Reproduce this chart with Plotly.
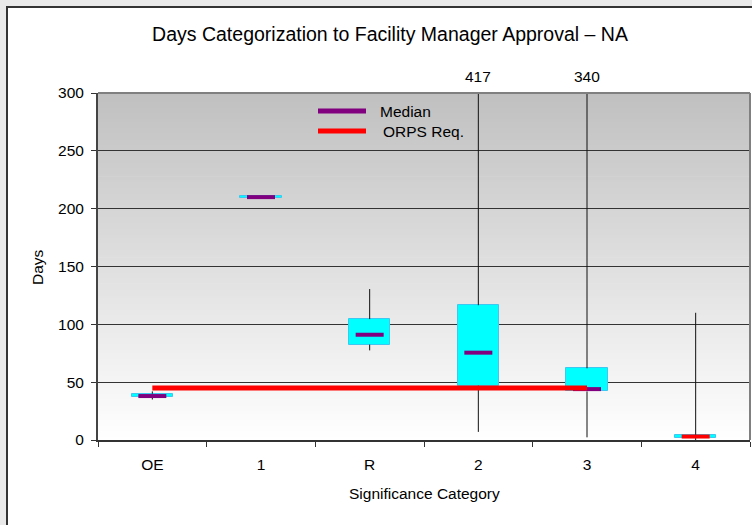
import plotly.graph_objects as go

# ---- data -------------------------------------------------------------
categories = ["OE", "1", "R", "2", "3", "4"]
low_days = [35, 209, 77.5, 7, 2.3, 0]
q1_days = [37, 209.5, 82.5, 47, 42, 1.7]
median_days = [38, 210, 91, 75.5, 44, 3]
q3_days = [40, 211, 104.5, 116.5, 62, 4]
high_days = [42, 211, 130.5, 417, 340, 110]
orps_categories = ["OE", "1", "R", "2", "3"]
orps_days = [45, 45, 45, 45, 45]
y_ticks = [0, 50, 100, 150, 200, 250, 300]

# ---- page geometry (pixels) -------------------------------------------
W, H = 752, 525
ML, MR, MT, MB = 98, 2, 93, 85
PW, PH = W - ML - MR, H - MT - MB
Y_MAX = 300


def px_x(px):
    return (px - ML) / PW


def px_y(py):
    return (H - MB - py) / PH


FONT = "Liberation Sans, Arial, sans-serif"
FS = 15.5
CYAN = "#00ffff"
PURPLE = "#800080"
RED = "#ff0000"

fig = go.Figure()

# whiskers: drawn outside the boxes only
wx, wy = [], []
for c, lo, a, b, hi in zip(categories, low_days, q1_days, q3_days, high_days):
    wx += [c, c, None, c, c, None]
    wy += [b, hi, None, lo, a, None]
fig.add_trace(go.Scatter(x=wx, y=wy, mode="lines",
                         line=dict(color="#111111", width=1),
                         showlegend=False, hoverinfo="skip"))

# boxes (q1 -> q3)
fig.add_trace(go.Bar(
    x=categories,
    y=[b - a for a, b in zip(q1_days, q3_days)],
    base=q1_days,
    width=0.38,
    marker=dict(color=CYAN, line=dict(color="#3cc8f0", width=1)),
    showlegend=False,
))

# medians
median_colors = [PURPLE] * (len(categories) - 1) + [RED]
fig.add_trace(go.Scatter(
    x=categories, y=median_days, mode="markers", name="Median",
    marker=dict(symbol="line-ew", size=20,
                line=dict(color=median_colors, width=4)),
    showlegend=False,
))

# requirement line
fig.add_trace(go.Scatter(
    x=orps_categories, y=orps_days, mode="lines", name="ORPS Req.",
    line=dict(color=RED, width=5), showlegend=False,
))

shapes = []
# white chart frame on the grey page
shapes.append(dict(type="rect", xref="paper", yref="paper",
                   x0=px_x(7), x1=px_x(820), y0=px_y(600), y1=px_y(7),
                   fillcolor="white", line=dict(color="#333333", width=2),
                   layer="below"))
# vertical grey gradient of the plot area
N = 120
top_rgb = (192, 192, 192)
bot_rgb = (255, 255, 255)
for i in range(N):
    t = (i + 0.5) / N
    col = tuple(round(bot_rgb[k] + (top_rgb[k] - bot_rgb[k]) * t) for k in range(3))
    shapes.append(dict(type="rect", xref="paper", yref="paper",
                       x0=0, x1=1, y0=i / N, y1=(i + 1) / N + 0.002,
                       fillcolor="rgb(%d,%d,%d)" % col, line=dict(width=0),
                       layer="below"))
# grey plot-area border (top and right)
shapes.append(dict(type="line", xref="paper", yref="paper", x0=0, x1=1, y0=1, y1=1,
                   line=dict(color="#808080", width=2), layer="above"))
shapes.append(dict(type="line", xref="paper", yref="paper", x0=1, x1=1, y0=0, y1=1,
                   line=dict(color="#808080", width=2), layer="above"))
# legend samples
shapes.append(dict(type="line", xref="paper", yref="paper",
                   x0=px_x(318), x1=px_x(366), y0=px_y(111), y1=px_y(111),
                   line=dict(color=PURPLE, width=5), layer="above"))
shapes.append(dict(type="line", xref="paper", yref="paper",
                   x0=px_x(318), x1=px_x(366), y0=px_y(131), y1=px_y(131),
                   line=dict(color=RED, width=5), layer="above"))

annotations = [
    dict(text="Median", xref="paper", yref="paper", x=px_x(378), y=px_y(111),
         xanchor="left", yanchor="middle", showarrow=False,
         font=dict(family=FONT, size=FS, color="black")),
    dict(text="ORPS Req.", xref="paper", yref="paper", x=px_x(381), y=px_y(131),
         xanchor="left", yanchor="middle", showarrow=False,
         font=dict(family=FONT, size=FS, color="black")),
    dict(text="Days", xref="paper", yref="paper", x=px_x(37), y=px_y(267),
         textangle=-90, xanchor="center", yanchor="middle", showarrow=False,
         font=dict(family=FONT, size=FS, color="black")),
    dict(text="Significance Category", xref="paper", yref="paper",
         x=px_x(424), y=px_y(493), xanchor="center", yanchor="middle",
         showarrow=False, font=dict(family=FONT, size=FS, color="black")),
]
# values of whiskers running off the top of the scale
for idx, hi in enumerate(high_days):
    if hi > Y_MAX:
        annotations.append(dict(text=str(hi), x=idx, xref="x", yref="paper",
                                y=px_y(76), xanchor="center", yanchor="middle",
                                showarrow=False,
                                font=dict(family=FONT, size=FS, color="black")))

fig.update_layout(
    width=W, height=H,
    margin=dict(l=ML, r=MR, t=MT, b=MB, pad=0),
    paper_bgcolor="#e9e9e9",
    plot_bgcolor="rgba(0,0,0,0)",
    font=dict(family=FONT, size=FS, color="black"),
    title=dict(text="Days Categorization to Facility Manager Approval \u2013 NA",
               x=390 / W, xanchor="center", y=1 - 34 / H, yanchor="middle",
               font=dict(family=FONT, size=19.5, color="black")),
    showlegend=False,
    bargap=0,
    shapes=shapes,
    annotations=annotations,
    xaxis=dict(type="category", categoryorder="array", categoryarray=categories,
               range=[-0.5, len(categories) - 0.5],
               tickson="boundaries", ticks="outside", ticklen=5,
               tickcolor="#333333", tickwidth=1,
               showline=True, linecolor="#333333", linewidth=2,
               showgrid=False, zeroline=False, ticklabelstandoff=9,
               tickfont=dict(family=FONT, size=FS, color="black")),
    yaxis=dict(range=[0, Y_MAX], tickvals=y_ticks, ticks="outside", ticklen=5,
               tickcolor="#333333", tickwidth=1,
               showline=True, linecolor="#444444", linewidth=2,
               showgrid=True, gridcolor="#333333", gridwidth=1,
               zeroline=False, ticklabelstandoff=4,
               tickfont=dict(family=FONT, size=FS, color="black")),
)

fig.write_html("out.html")
